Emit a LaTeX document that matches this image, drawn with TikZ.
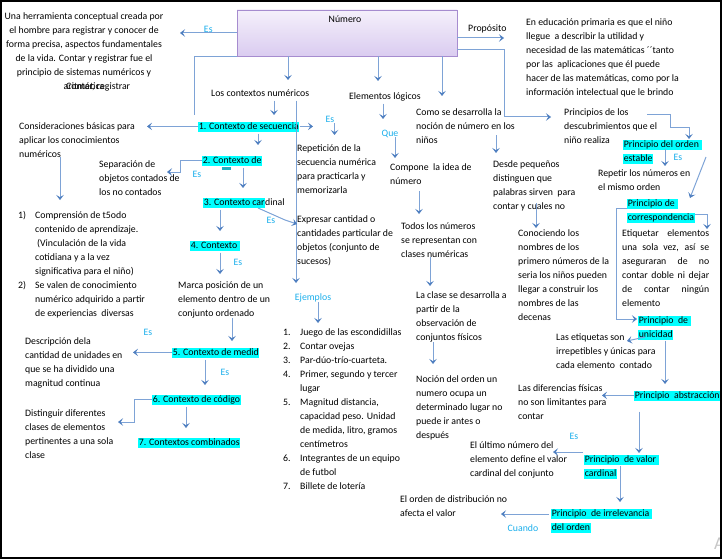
\documentclass[tikz,border=0pt]{standalone}
\usepackage{fontspec}
\setmainfont{Carlito}
\usetikzlibrary{arrows.meta}

\definecolor{hlcyan}{HTML}{00FFFF}
\definecolor{esblue}{HTML}{1AAEEB}
\definecolor{linkblue}{HTML}{7EA3D6}
\definecolor{tipblue}{HTML}{4F7FC0}
\definecolor{numtop}{HTML}{F5F0FB}
\definecolor{numbot}{HTML}{DACCF0}
\definecolor{numline}{HTML}{A68CCF}
\definecolor{dashteal}{HTML}{20B0C0}

\newcommand{\mapfont}{\fontsize{9.8}{14}\selectfont}
\newcommand{\hlt}[1]{{\setlength{\fboxsep}{0.6pt}\colorbox{hlcyan}{\rule[-2.6pt]{0pt}{9pt}#1}}}

\tikzset{
  txt/.style={anchor=north west, yshift=9.8pt, inner sep=0pt, align=left, font=\mapfont},
  ctxt/.style={txt, anchor=north, align=center},
  es/.style={anchor=base, inner sep=0pt, font=\mapfont, text=esblue},
  link/.style={draw=linkblue, line width=1pt},
  arr/.style={link, -{Stealth[length=5pt,width=7.5pt,inset=2.2pt,color=tipblue]}},
  numbox/.style={draw=numline, line width=0.8pt, top color=numtop, bottom color=numbot,
    minimum width=220pt, minimum height=46pt, inner sep=0pt}
}

\begin{document}
\begin{tikzpicture}[x=1pt,y=-1pt]
        \useasboundingbox (0,0) rectangle (722,559) ;
        %\draw[very thin,gray,step=50] (0,0) grid (722,559) ;

        % top
        \node[numbox] (numero) at (347,33) {} ;
        \node[es, text=black] (numtxt) at (345,23) {Número} ;
        \node[ctxt] (herr) at (84,19) {\strut Una herramienta conceptual creada por\\el hombre para registrar y conocer de\\forma precisa, aspectos fundamentales\\de la vida. Contar y registrar fue el\\principio de sistemas numéricos y\\aritmética} ;
        \node[txt] (contar) at (66,89) {\strut Contar, registrar} ;
        \node[txt] (prop) at (468,31) {\strut Propósito} ;
        \node[txt] (edu) at (526,25) {\strut En educación primaria es que el niño\\llegue\ \ a describir la utilidad y\\necesidad de las matemáticas ´´tanto\\por las\ \ aplicaciones que él puede\\hacer de las matemáticas, como por la\\información intelectual que le brindo} ;
        \node[txt] (losctx) at (211,96) {\strut Los contextos numéricos} ;
        \node[txt] (elem) at (349,99) {\strut Elementos lógicos} ;
        \node[txt] (como) at (416,115) {\strut Como se desarrolla la\\noción de número en los\\niños} ;
        \node[txt] (princ) at (564,115) {\strut Principios de los\\descubrimientos que el\\niño realiza} ;

        % contextos
        \node[txt] (sec) at (198,129) {\strut\hlt{1. Contexto de secuencia}} ;
        \node[txt] (cons) at (19,129) {\strut Consideraciones básicas para\\aplicar los conocimientos\\numéricos} ;
        \node[txt] (rep) at (297,151) {\strut Repetición de la\\secuencia numérica\\para practicarla y\\memorizarla} ;
        \node[txt] (ctx2) at (202,163) {\strut\hlt{2. Contexto de}} ;
        \fill[dashteal] (222,167) rectangle (231,169.5) ;
        \node[txt] (sep) at (99,167) {\strut Separación de\\objetos contados de\\los no contados} ;
        \node[txt] (list) at (18,218) {\strut\makebox[17pt][l]{1)}Comprensión de t5odo\\
          \hspace*{17pt}contenido de aprendizaje.\\
          \hspace*{19pt}(Vinculación de la vida\\
          \hspace*{17pt}cotidiana y a la vez\\
          \hspace*{17pt}significativa para el niño)\\
          \makebox[17pt][l]{2)}Se valen de conocimiento\\
          \hspace*{17pt}numérico adquirido a partir\\
          \hspace*{17pt}de experiencias\ \ diversas} ;
        \node[txt] (ctx3) at (203,205) {\strut\hlt{3. Contexto car}dinal} ;
        \node[txt] (expr) at (297,222) {\strut Expresar cantidad o\\cantidades particular de\\objetos (conjunto de\\sucesos)} ;
        \node[txt] (ctx4) at (190,248) {\strut\hlt{4. Contexto\ }} ;
        \node[txt] (mark) at (178,288) {\strut Marca posición de un\\elemento dentro de un\\conjunto ordenado} ;
        \node[txt] (ctx5) at (172,355) {\strut\hlt{5. Contexto de medid}} ;
        \node[txt] (desc) at (25,344) {\strut Descripción dela\\cantidad de unidades en\\que se ha dividido una\\magnitud continua} ;
        \node[txt] (ctx6) at (152,402) {\strut\hlt{6. Contexto de código}} ;
        \node[txt] (dist) at (25,416) {\strut Distinguir diferentes\\clases de elementos\\pertinentes a una sola\\clase} ;
        \node[txt] (ctx7) at (138,445) {\strut\hlt{7. Contextos combinados}} ;
        \node[es] (ejem) at (313,300) {Ejemplos} ;
        \node[txt] (ejlist) at (283,335) {\strut\makebox[17pt][l]{1.}Juego de las escondidillas\\
          \makebox[17pt][l]{2.}Contar ovejas\\
          \makebox[17pt][l]{3.}Par-dúo-trío-cuarteta.\\
          \makebox[17pt][l]{4.}Primer, segundo y tercer\\
          \hspace*{17pt}lugar\\
          \makebox[17pt][l]{5.}Magnitud distancia,\\
          \hspace*{17pt}capacidad peso. Unidad\\
          \hspace*{17pt}de medida, litro, gramos\\
          \hspace*{17pt}centímetros\\
          \makebox[17pt][l]{6.}Integrantes de un equipo\\
          \hspace*{17pt}de futbol\\
          \makebox[17pt][l]{7.}Billete de lotería} ;

        % elementos logicos
        \node[es] (que) at (390,136) {Que} ;
        \node[txt] (comp) at (390,170) {\strut Compone\ \ la idea de\\número} ;
        \node[txt] (todos) at (401,229) {\strut Todos los números\\se representan con\\clases numéricas} ;
        \node[txt] (clase) at (416,298) {\strut La clase se desarrolla a\\partir de la\\observación de\\conjuntos físicos} ;
        \node[txt] (nocion) at (416,382) {\strut Noción del orden un\\numero ocupa un\\determinado lugar no\\puede ir antes o\\después} ;
        \node[txt] (desde) at (493,167) {\strut Desde pequeños\\distinguen que\\palabras sirven\ \ para\\contar y cuales no} ;
        \node[txt] (conoc) at (518,236) {\strut Conociendo los\\nombres de los\\primero números de la\\seria los niños pueden\\llegar a construir los\\nombres de las\\decenas} ;

        % principios
        \node[txt] (orden) at (623,147) {\strut\hlt{Principio del orden\ }\\\hlt{estable}} ;
        \node[txt] (repet) at (598,176) {\strut Repetir los números en\\el mismo orden} ;
        \node[txt] (corr) at (627,206) {\strut\hlt{Principio de\ }\\\hlt{correspondencia}} ;
        \node[txt, text width=87pt, align=justify] (etiq) at (622,236) {\strut Etiquetar elementos\linebreak una sola vez, así se\linebreak aseguraran de no\linebreak contar doble ni dejar\linebreak de contar ningún\linebreak elemento} ;
        \node[txt] (unic) at (638,323) {\strut\hlt{Principio\ \ de\ }\\\hlt{unicidad}} ;
        \node[txt] (lasetiq) at (556,340) {\strut Las etiquetas son\\irrepetibles y únicas para\\cada elemento\ \ contado} ;
        \node[txt] (abst) at (634,398) {\strut\hlt{Principio\ \ abstracción}} ;
        \node[txt] (dif) at (518,391) {\strut Las diferencias físicas\\no son limitantes para\\contar} ;
        \node[txt] (valor) at (584,462) {\strut\hlt{Principio\ \ de valor\ }\\\hlt{cardinal}} ;
        \node[txt] (ultimo) at (470,448) {\strut El último número del\\elemento define el valor\\cardinal del conjunto} ;
        \node[txt] (irrel) at (551,516) {\strut\hlt{Principio\ \ de irrelevancia\ }\\\hlt{del orden}} ;
        \node[txt] (distr) at (400,502) {\strut El orden de distribución no\\afecta el valor} ;
        \node[es] (cuando) at (523,531) {Cuando} ;

        % Es labels
        \node[es] (es-rep) at (330,123) {Es} ;
        \node[es] (es-sep) at (197,177) {Es} ;
        \node[es] (es-expr) at (271,223) {Es} ;
        \node[es] (es-mark) at (238,265) {Es} ;
        \node[es] (es-desc) at (148,335) {Es} ;
        \node[es] (es-ctx6) at (225,375) {Es} ;
        \node[es] (es-repet) at (678,160) {Es} ;
        \node[es] (es-ultimo) at (574,439) {Es} ;
        \node[text=gray!45, font=\fontsize{18}{18}\selectfont, anchor=base west, inner sep=0pt] (wm) at (714,549) {A} ;

        % free ends of the links
        \coordinate (h-tip) at (180,33) ;
        \coordinate (n-end) at (194,115) ;
        \coordinate (l-tip) at (288,80) ;
        \coordinate (ej-tip) at (296,283) ;
        \coordinate (s-tip) at (274,115) ;
        \coordinate (c-tip) at (147,126) ;
        \coordinate (e2-tip) at (313,126) ;
        \coordinate (r-tip) at (335,135) ;
        \coordinate (li-tip) at (60,200) ;
        \coordinate (c2-tip) at (258,145) ;
        \coordinate (sp-b) at (180,172) ;
        \coordinate (sp-tip) at (167,172) ;
        \coordinate (c3-tip) at (243,188) ;
        \coordinate (x3-a) at (258,208) ;
        \coordinate (x3-b) at (285,220) ;
        \coordinate (x3-tip) at (297,224) ;
        \coordinate (c4-tip) at (220,231) ;
        \coordinate (mk-tip) at (220,274) ;
        \coordinate (c5-tip) at (232,341) ;
        \coordinate (d-tip) at (133,351) ;
        \coordinate (c6-tip) at (205,385) ;
        \coordinate (ds-b) at (134,422) ;
        \coordinate (ds-tip) at (118,422) ;
        \coordinate (c7-tip) at (186,428) ;
        \coordinate (jl-tip) at (318,323) ;
        \coordinate (el-tip) at (378,81) ;
        \coordinate (q-tip) at (383,119) ;
        \coordinate (cp-tip) at (395,158) ;
        \coordinate (td-tip) at (419,214) ;
        \coordinate (cl-tip) at (430,286) ;
        \coordinate (nc-tip) at (433,364) ;
        \coordinate (cm-tip) at (442,96) ;
        \coordinate (cm-out) at (496,135) ;
        \coordinate (dz-tip) at (496,153) ;
        \coordinate (dz-out) at (536,203) ;
        \coordinate (cn-tip) at (536,228) ;
        \coordinate (pr-tip) at (504,38) ;
        \coordinate (pc-a) at (504,50) ;
        \coordinate (pc-tip) at (551,117) ;
        \coordinate (po-a) at (647,115) ;
        \coordinate (po-b) at (670,127) ;
        \coordinate (po-tip) at (689,139) ;
        \coordinate (or-out) at (665,149) ;
        \coordinate (rp-tip) at (665,166) ;
        \coordinate (dg-a) at (706,157) ;
        \coordinate (dg-tip) at (690,198) ;
        \coordinate (cr-a) at (695,214) ;
        \coordinate (cr-tip) at (707,229) ;
        \coordinate (cu-a) at (627,208) ;
        \coordinate (cu-b) at (616,319) ;
        \coordinate (cu-tip) at (637,319) ;
        \coordinate (un-a) at (645,337) ;
        \coordinate (un-tip) at (627,341) ;
        \coordinate (ab-tip) at (665,384) ;
        \coordinate (df-tip) at (602,397) ;
        \coordinate (vl-tip) at (639,453) ;
        \coordinate (ul-a) at (583,452) ;
        \coordinate (ul-tip) at (553,452) ;
        \coordinate (vl-out) at (620,466) ;
        \coordinate (ir-tip) at (620,502) ;
        \coordinate (ir-a) at (549,514) ;
        \coordinate (dt-tip) at (501,514) ;

        % links
        \draw[arr] (numero.west) -- (h-tip) node[es, midway, above] (es-herr) {Es} ;
        \draw[link] (numero.south west) -| (n-end) ;
        \draw[arr] (numero.south -| l-tip) -- (l-tip) ;
        \draw[arr] (losctx.south -| ej-tip) -- (ej-tip) ;
        \draw[arr] (losctx.south -| s-tip) -- (s-tip) ;
        \draw[arr] (sec.west) -- (sec.west -| c-tip) ;
        \draw[arr] (sec.east) -- (sec.east -| e2-tip) ;
        \draw[arr] (es-rep.south east) -- (es-rep.south east |- r-tip) ;
        \draw[arr] (cons.south -| li-tip) -- (li-tip) ;
        \draw[arr] (sec.south -| c2-tip) -- (c2-tip) ;
        \draw[arr] (ctx2.west) -| (sp-b) -- (sp-tip) ;
        \draw[arr] (ctx2.south -| c3-tip) -- (c3-tip) ;
        \draw[arr] (x3-a) -- (x3-b) -- (x3-tip) ;
        \draw[arr] (ctx3.south -| c4-tip) -- (c4-tip) ;
        \draw[arr] (ctx4.south -| mk-tip) -- (mk-tip) ;
        \draw[arr] (mark.south -| c5-tip) -- (c5-tip) ;
        \draw[arr] (ctx5.west) -- (ctx5.west -| d-tip) ;
        \draw[arr] (ctx5.south -| c6-tip) -- (c6-tip) ;
        \draw[arr] (ctx6.west) -| (ds-b) -- (ds-tip) ;
        \draw[arr] (ctx6.south -| c7-tip) -- (c7-tip) ;
        \draw[arr] (ejem.south -| jl-tip) -- (jl-tip) ;
        \draw[arr] (numero.south -| el-tip) -- (el-tip) ;
        \draw[arr] (elem.south -| q-tip) -- (q-tip) ;
        \draw[arr] (que.south -| cp-tip) -- (cp-tip) ;
        \draw[arr, shorten <=7pt] (comp.south -| td-tip) -- (td-tip) ;
        \draw[arr] (todos.south -| cl-tip) -- (cl-tip) ;
        \draw[arr] (clase.south -| nc-tip) -- (nc-tip) ;
        \draw[arr] (numero.south -| cm-tip) -- (cm-tip) ;
        \draw[arr] (cm-out) -- (dz-tip) ;
        \draw[arr] (dz-out) -- (cn-tip) ;
        \draw[arr] (numero.east |- pr-tip) -- (pr-tip) ;
        \draw[arr] (numero.east |- pc-a) -- (pc-a) |- (pc-tip) ;
        \draw[arr] (po-a) -| (po-b) -| (po-tip) ;
        \draw[arr] (or-out) -- (rp-tip) ;
        \draw[arr] (dg-a) -- (dg-tip) ;
        \draw[arr] (cr-a) -| (cr-tip) ;
        \draw[arr] (cu-a) -| (cu-b) -- (cu-tip) ;
        \draw[arr] (un-a) -- (un-tip) ;
        \draw[arr] (unic.south -| ab-tip) -- (ab-tip) ;
        \draw[arr] (abst.west) -- (abst.west -| df-tip) ;
        \draw[arr, shorten <=9pt] (abst.south -| vl-tip) -- (vl-tip) ;
        \draw[arr] (ul-a) -- (ul-tip) ;
        \draw[arr] (vl-out) -- (ir-tip) ;
        \draw[arr] (ir-a) -- (dt-tip) ;

        % frame
        \draw[line width=1.6pt] (1,1) rectangle (721,558) ;
\end{tikzpicture}
\end{document}
